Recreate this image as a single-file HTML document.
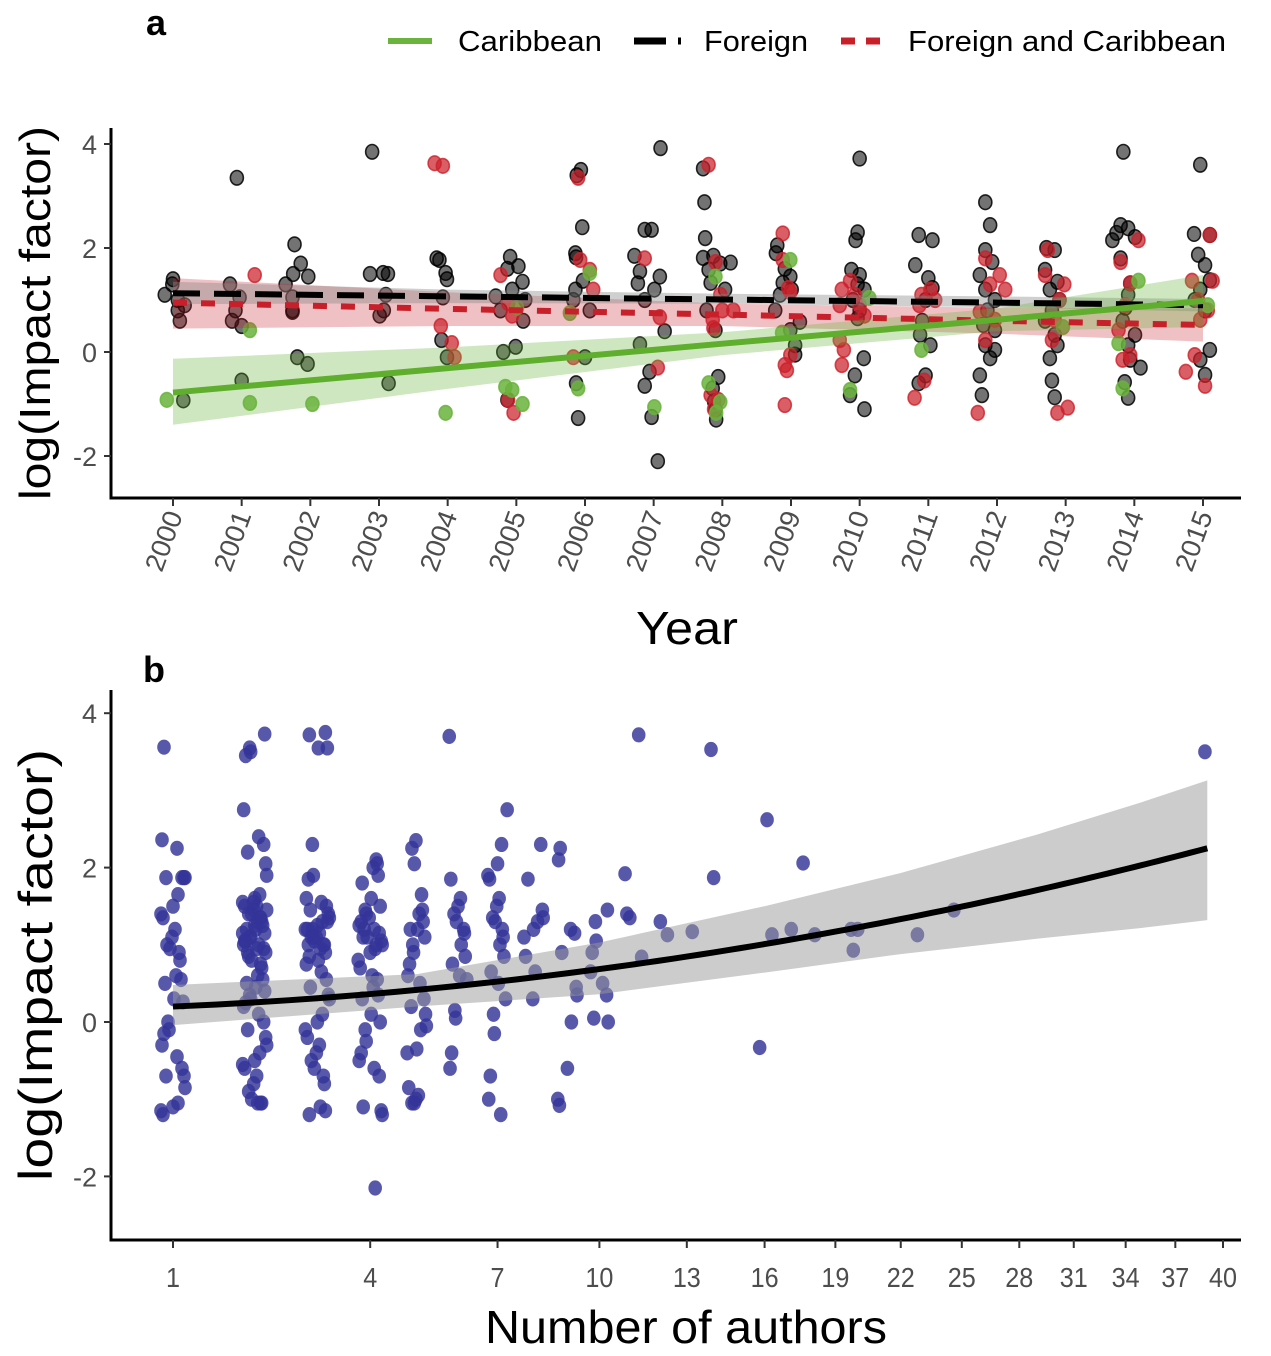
<!DOCTYPE html>
<html><head><meta charset="utf-8"><style>
html,body{margin:0;padding:0;background:#fff}
svg{display:block}
text{font-family:"Liberation Sans",Arial,sans-serif}
</style></head><body>
<svg id="chart" width="1271" height="1356" viewBox="0 0 1271 1356" xmlns="http://www.w3.org/2000/svg">
<g id="panelA"></g>
<g id="panelB"></g>
</svg>
<script>
// ---------- Panel a data ----------
const yearTicks = [2000,2001,2002,2003,2004,2005,2006,2007,2008,2009,2010,2011,2012,2013,2014,2015];
const yTicksA = [-2,0,2,4];
// Foreign (black) points: jittered year, value
const foreignX = [1999.88,1999.99,2000,2000.07,2000.10,2000.17,2000.07,2000.15,
2000.93,2000.83,2000.97,2000.91,2000.86,2001,2001,
2001.77,2001.86,2001.75,2001.97,2001.64,2001.74,2001.74,2001.74,2001.81,2001.96,
2002.9,2003.06,2003.13,2002.87,2003.1,2003.07,2003.01,2003.14,
2003.84,2003.88,2003.97,2003.99,2003.93,2003.91,2003.99,
2004.91,2005.03,2004.87,2005.09,2004.94,2004.7,2005.13,2004.77,2005.1,2004.99,2004.81,2004.87,
2005.94,2005.88,2005.96,2005.86,2005.87,2005.97,2005.86,2005.83,2006.07,2006,2005.9,2005.87,
2007.1,2006.87,2006.97,2006.72,2006.8,2006.77,2007.01,2007.09,2006.87,2007.16,2006.8,2006.94,2006.87,2006.97,2007.06,
2007.72,2007.74,2007.75,2007.72,2007.87,2007.97,2007.8,2008.12,2007.83,2008.04,2007.77,2007.9,2007.94,2007.86,2007.88,2007.9,2007.91,
2008.8,2008.78,2008.91,2008.88,2008.99,2009.01,2008.84,2008.77,2009.13,2008.99,2009.06,2009.06,
2010,2009.94,2009.97,2009.88,2010,2009.97,2010.07,2009.9,2010,2009.97,2010.06,2009.93,2009.86,2010.07,
2010.86,2011.06,2010.81,2011,2011.06,2010.96,2010.91,2010.88,2011.03,2010.86,2010.96,
2011.83,2011.9,2011.83,2011.93,2011.75,2011.83,2011.97,2011.86,2011.8,2011.97,2011.83,2011.9,2011.75,2011.78,2011.97,
2012.72,2012.84,2012.7,2012.88,2012.77,2012.91,2012.8,2012.7,2012.84,2012.88,2012.77,2012.8,2012.84,
2013.84,2013.8,2013.91,2013.74,2013.68,2014.01,2013.8,2013.94,2013.91,2013.87,2013.83,2014.01,2013.91,2013.94,2013.86,2013.91,2014.09,
2014.96,2014.87,2015.1,2014.93,2015.03,2015.1,2014.96,2014.88,2015.03,2015.1,2014.96,2015.03];
const foreignY = [1.1,1.3,1.4,0.8,0.6,0.9,1.0,-0.93,
3.35,1.3,1.05,0.8,0.6,0.5,-0.55,
2.07,1.7,1.5,1.45,1.3,1.05,0.8,0.77,-0.1,-0.23,
3.85,1.52,1.5,1.5,1.1,0.8,0.7,-0.6,
1.8,1.77,1.52,1.4,1.05,0.23,-0.1,
1.83,1.65,1.6,1.35,1.2,1.07,1.0,0.8,0.6,0.1,0,-0.92,
3.5,3.4,2.4,1.9,1.82,1.37,1.2,1.0,0.8,-0.1,-1.27,-0.6,
3.92,2.35,2.35,1.85,1.55,1.32,1.2,1.45,1.0,0.4,0.15,-0.38,-0.65,-1.25,-2.1,
3.53,2.88,2.19,1.81,1.85,1.7,1.58,1.72,1.33,1.2,0.8,0.42,-0.48,-0.7,-0.95,-1.1,-1.3,
2.05,1.9,1.6,1.33,1.45,1.2,1.1,0.8,0.58,0.42,0.13,-0.05,
3.72,2.15,2.3,1.58,1.48,1.3,1.2,1.0,0.8,0.65,-0.12,-0.45,-0.83,-1.1,
2.25,2.15,1.67,1.42,1.23,1.0,0.6,0.33,0.13,-0.6,-0.45,
2.88,2.44,1.96,1.73,1.48,1.2,1.0,0.8,0.52,0.42,0.13,-0.12,-0.45,-0.83,0.04,
2.0,1.96,1.58,1.35,1.2,1.0,0.8,0.6,0.33,0.13,-0.12,-0.55,-0.87,
3.85,2.44,2.38,2.29,2.15,2.21,1.8,1.32,1.1,0.85,0.6,0.33,0.13,-0.15,-0.58,-0.88,-0.3,
3.6,2.27,2.25,1.87,1.67,1.38,1.2,1.0,0.8,0.04,-0.15,-0.44];
// Foreign and Caribbean (red)
const bothX = [2001.19,2003.81,2003.93,2003.9,2004.06,2004.1,
2004.77,2004.88,2004.94,2004.88,2004.96,
2005.9,2005.93,2006.07,2006.12,2005.83,
2006.87,2007.09,2007.06,
2007.8,2007.9,2007.97,2007.86,2008,2007.87,2007.88,2007.94,2007.83,2008.16,
2008.88,2008.88,2008.96,2008.99,2008.91,2008.94,2008.91,2008.99,
2009.71,2009.74,2009.86,2010,2009.71,2009.77,2009.74,2009.93,2010.07,
2010.87,2010.9,2011.03,2010.94,2010.8,2011.1,
2011.83,2011.9,2011.75,2011.97,2011.83,2011.72,2012.04,2012.12,
2012.74,2012.91,2012.84,2012.8,2012.88,2013.03,2012.7,2012.98,
2013.8,2013.87,2013.77,2013.94,2013.83,2014.06,2013.94,
2014.84,2014.93,2014.96,2014.88,2014.75,2015.03,2015.1,2015.07,2015.14];
const bothY = [1.48,3.63,3.58,0.5,0.17,-0.1,
1.48,0.94,0.7,-0.92,-1.17,
3.35,1.77,1.58,1.2,-0.1,
1.8,0.67,-0.3,
3.6,1.73,1.1,0.62,0.8,0.46,-1.1,-0.92,-0.83,0.8,
2.28,1.77,1.23,-0.06,-0.25,-0.35,-1.02,1.15,
0.9,1.2,1.37,0.9,0.23,0.04,-0.25,1.1,0.7,
0.9,1.1,1.2,-0.55,-0.88,1.0,
1.8,1.3,0.77,0.62,0.23,-1.17,1.48,1.2,
1.96,1.0,0.62,0.23,-1.17,-1.07,1.48,1.3,
1.73,0.9,0.42,-0.06,-0.15,2.15,1.32,
1.37,1.0,0.62,-0.06,-0.38,-0.65,2.25,0.8,1.37];
// Caribbean (green)
const caribX = [1999.91,2001.12,2001.12,2002.03,2003.97,2004.84,2004.94,2005.09,2005.01,2006.07,2005.78,2005.9,2007.01,2007.8,2007.9,2007.97,2007.91,2008.99,2008.87,2010.14,2009.86,2010.9,2012.96,2014.06,2013.83,2013.77,2015.07];
const caribY = [-0.92,0.42,-0.98,-1.0,-1.17,-0.67,-0.73,-1.0,0.85,1.52,0.75,-0.7,-1.06,-0.6,1.45,-0.96,-1.17,1.77,0.37,1.04,-0.73,0.04,0.48,1.37,-0.7,0.17,0.9];
// Fitted trends (at years in bandYears)
const bandYears = [2000,2004,2008,2012,2015];
const caribFit = [-0.78,-0.31,0.16,0.62,0.98];
const caribLo = [-1.4,-0.71,-0.06,0.4,0.48];
const caribHi = [-0.13,0.09,0.38,0.84,1.48];
const foreignFit = [1.13,1.07,1.01,0.95,0.9];
const foreignLo = [0.92,0.94,0.93,0.86,0.78];
const foreignHi = [1.35,1.2,1.12,1.07,1.02];
const bothFit = [0.95,0.83,0.72,0.6,0.52];
const bothLo = [0.45,0.5,0.5,0.35,0.2];
const bothHi = [1.42,1.15,0.93,0.85,0.84];

// ---------- Panel b data ----------
const authorTicks = [1,4,7,10,13,16,19,22,25,28,31,34,37,40];
const yTicksB = [-2,0,2,4];
const colAuthors = [1,2,3,4,5,6,7,8,9,10];
const colValues = [
 [3.56,2.36,2.25,1.87,1.87,1.87,1.87,1.65,1.5,1.4,1.35,1.2,1.1,1.0,0.95,0.9,0.8,0.6,0.55,0.5,0.3,0.26,0.0,-0.1,-0.15,-0.3,-0.45,-0.6,-0.7,-0.7,-0.85,-1.05,-1.1,-1.15,-1.2],
 [3.73,3.55,3.5,3.45,2.75,2.4,2.3,2.2,2.05,1.9,1.65,1.6,1.55,1.5,1.5,1.45,1.4,1.4,1.35,1.3,1.3,1.25,1.2,1.2,1.15,1.1,1.1,1.05,1.0,1.0,0.95,0.9,0.9,1.45,1.35,1.25,1.15,1.05,0.95,1.55,0.85,0.8,0.75,0.7,0.6,0.55,0.5,0.45,0.4,0.35,0.3,0.25,0.2,0.1,0.0,-0.1,-0.2,-0.3,-0.4,-0.5,-0.55,-0.6,-0.7,-0.8,-0.9,-1.0,-1.05,-1.05,-1.05],
 [3.75,3.72,3.55,3.55,2.3,1.9,1.85,1.6,1.55,1.5,1.45,1.4,1.35,1.3,1.25,1.2,1.2,1.15,1.1,1.1,1.05,1.0,1.0,0.95,0.9,0.85,0.8,1.3,1.2,1.1,1.0,0.75,0.65,0.55,0.45,0.35,0.3,0.1,0.0,-0.1,-0.2,-0.3,-0.4,-0.5,-0.6,-0.7,-0.8,-1.1,-1.15,-1.2],
 [2.1,2.05,2.0,1.9,1.8,1.6,1.5,1.45,1.4,1.3,1.25,1.2,1.15,1.1,1.05,1.0,0.95,0.9,0.8,0.7,0.6,1.35,1.2,1.1,1.0,0.55,0.45,0.35,0.3,0.1,0.0,-0.1,-0.25,-0.4,-0.5,-0.6,-0.7,-1.1,-1.15,-1.2,-2.15],
 [2.35,2.25,2.05,1.65,1.45,1.4,1.3,1.2,1.2,1.1,1.0,0.9,0.75,0.6,0.5,0.3,0.2,0.1,-0.05,-0.1,-0.35,-0.4,-0.85,-0.95,-1.0,-1.05,-1.05],
 [3.7,1.85,1.6,1.5,1.4,1.3,1.2,1.15,1.0,0.85,0.75,0.6,0.55,0.15,0.05,-0.4,-0.6],
 [2.75,2.3,2.05,1.9,1.85,1.6,1.5,1.35,1.3,1.2,1.1,1.0,0.85,0.65,0.5,0.3,0.1,-0.15,-0.7,-1.0,-1.2],
 [2.3,1.85,1.45,1.35,1.3,1.2,1.1,0.85,0.65,0.3],
 [2.25,2.1,1.2,1.15,0.9,0.45,0.35,0.0,-0.6,-1.0,-1.08],
 [1.45,1.3,1.05,0.9,0.65,0.5,0.35,0.05,0.0]
];
const sparseN = [10.84,10.9,11.0,11.3,11.4,12.05,12.3,13.2,13.9,14.0,16.1,16.3,15.8,17.1,17.6,18.1,19.7,19.8,20.0,22.8,24.6,38.85];
const sparseV = [1.92,1.4,1.35,3.72,0.84,1.3,1.13,1.17,3.53,1.87,2.62,1.13,-0.33,1.2,2.06,1.13,1.2,0.93,1.2,1.13,1.45,3.5];
const fitN = [1,39];
const fitV = [0.2,2.25];
const bandN = [1,5,10,16,22,29,35,39];
const bandLoB = [-0.04,0.2,0.36,0.64,0.88,1.08,1.22,1.32];
const bandHiB = [0.48,0.62,1.03,1.5,1.93,2.43,2.85,3.13];

// ---------- helpers ----------
const NS = "http://www.w3.org/2000/svg";
function mk(parent, tag, attrs, text){
  const e = document.createElementNS(NS, tag);
  for (const k in attrs) e.setAttribute(k, attrs[k]);
  if (text !== undefined) e.textContent = text;
  parent.appendChild(e);
  return e;
}
const A = document.getElementById('panelA');
const B = document.getElementById('panelB');

const xA = yr => 173 + (yr - 2000) * (1203 - 173) / 15;
const yA = v => 352 - v * 52;
const xB = n => 173 + (Math.sqrt(n) - 1) * 197.2;
const yB = v => 1022 - v * 77.2;

// ---------- Panel A ----------
let t;
t = mk(A,'text',{x:146,y:35,'font-size':36,'font-weight':'bold'},'a');



const lg = mk(A,'g',{});


let l;
l = mk(lg,'line',{x1:388,y1:41,x2:432,y2:41,stroke:'#6ab33d','stroke-width':6});
 
t = mk(lg,'text',{x:458,y:51,'font-size':29,textLength:144,lengthAdjust:'spacingAndGlyphs'},'Caribbean');
 
l = mk(lg,'line',{x1:634,y1:41,x2:666,y2:41,stroke:'#000','stroke-width':7});
 
l = mk(lg,'line',{x1:678,y1:41,x2:681,y2:41,stroke:'#000','stroke-width':7});
 
t = mk(lg,'text',{x:704,y:51,'font-size':29,textLength:104,lengthAdjust:'spacingAndGlyphs'},'Foreign');
 
l = mk(lg,'line',{x1:841,y1:41,x2:881,y2:41,stroke:'#c8202a','stroke-width':7,'stroke-dasharray':'14 11'});
 
t = mk(lg,'text',{x:908,y:51,'font-size':29,textLength:318,lengthAdjust:'spacingAndGlyphs'},'Foreign and Caribbean');
 

function pointsA(xs, ys, fill, stroke, name){
  const g = mk(A,'g',{});
  
  
  for (let i=0;i<xs.length;i++){
    const c = mk(g,'ellipse',{cx:xA(xs[i]),cy:yA(ys[i]),rx:6.5,ry:7.3,fill:fill,stroke:stroke,'stroke-width':1.6});
    
    
  }
}
pointsA(foreignX, foreignY, 'rgba(0,0,0,0.55)', 'rgba(0,0,0,0.85)', 'foreign-points');
pointsA(bothX, bothY, 'rgba(204,32,42,0.72)', 'rgba(204,32,42,0.8)', 'both-points');
pointsA(caribX, caribY, 'rgba(106,179,61,0.85)', 'rgba(106,179,61,0.85)', 'caribbean-points');

function band(parent, xs, lo, hi, xf, yf, fill, op, name){
  let d = '';
  for (let i=0;i<xs.length;i++) d += (i?'L':'M') + xf(xs[i]) + ' ' + yf(hi[i]);
  for (let i=xs.length-1;i>=0;i--) d += 'L' + xf(xs[i]) + ' ' + yf(lo[i]);
  const p = mk(parent,'path',{d:d+'Z',fill:fill,'fill-opacity':op,stroke:'none'});
  
  
}
function line(parent, xs, ys, xf, yf, color, w, dash, name){
  let d='';
  for (let i=0;i<xs.length;i++) d += (i?'L':'M') + xf(xs[i]) + ' ' + yf(ys[i]);
  const p = mk(parent,'path',{d:d,fill:'none',stroke:color,'stroke-width':w,'stroke-dasharray':dash});
  
  
}
band(A, bandYears, bothLo, bothHi, xA, yA, '#c8202a', 0.28, 'both-ci-band');
band(A, bandYears, foreignLo, foreignHi, xA, yA, '#888', 0.4, 'foreign-ci-band');
band(A, bandYears, caribLo, caribHi, xA, yA, '#6ab33d', 0.32, 'caribbean-ci-band');
line(A, bandYears, foreignFit, xA, yA, '#000', 6, '27 14', 'foreign-trend-line');
line(A, bandYears, bothFit, xA, yA, '#c8202a', 6, '14 14', 'both-trend-line');
line(A, bandYears, caribFit, xA, yA, '#5fae2e', 6, 'none', 'caribbean-trend-line');

l = mk(A,'line',{x1:111,y1:128,x2:111,y2:499.5,stroke:'#000','stroke-width':3});
 
l = mk(A,'line',{x1:109.5,y1:498,x2:1241,y2:498,stroke:'#000','stroke-width':3});
 
yTicksA.forEach(v=>{
  const tk = mk(A,'line',{x1:104,y1:yA(v),x2:111,y2:yA(v),stroke:'#333','stroke-width':2});
   
  const tl = mk(A,'text',{x:97,y:yA(v)+10,'font-size':27,'text-anchor':'end',fill:'#4d4d4d'}, String(v));
   
});
yearTicks.forEach(yr=>{
  const x = xA(yr);
  const tk = mk(A,'line',{x1:x,y1:498,x2:x,y2:506,stroke:'#333','stroke-width':2});
   
  const tl = mk(A,'text',{x:0,y:0,'font-size':27,'text-anchor':'end',fill:'#4d4d4d',
     transform:'translate('+(x+10)+',515) rotate(-70)',textLength:62,lengthAdjust:'spacingAndGlyphs'}, String(yr));
   
});
t = mk(A,'text',{x:687,y:644,'font-size':46,'text-anchor':'middle',textLength:102,lengthAdjust:'spacingAndGlyphs'},'Year');
 
t = mk(A,'text',{x:0,y:0,'font-size':44,'text-anchor':'middle',transform:'translate(50,313) rotate(-90)',textLength:374,lengthAdjust:'spacingAndGlyphs'},'log(Impact factor)');
 

// ---------- Panel B ----------
t = mk(B,'text',{x:143,y:682,'font-size':36,'font-weight':'bold'},'b');
 

const jit = [-9,5,-3,10,-7,2,8,-11,0,6,-5,11,-1,-8,4,-12,7,-4,12,-6,1,9,-10,3];
const gB = mk(B,'g',{});


colAuthors.forEach((n,ci)=>{
  const scale = n<=4 ? 1 : 0.8;
  colValues[ci].forEach((v,i)=>{
    const c = mk(gB,'ellipse',{cx:xB(n)+jit[(i*7+ci*3)%jit.length]*scale,cy:yB(v),rx:6.8,ry:7.6,fill:'rgba(51,51,153,0.82)'});
    
    
  });
});
sparseN.forEach((n,i)=>{
  const c = mk(gB,'ellipse',{cx:xB(n),cy:yB(sparseV[i]),rx:6.8,ry:7.6,fill:'rgba(51,51,153,0.82)'});
  
  
});
band(B, bandN, bandLoB, bandHiB, xB, yB, '#999', 0.5, 'authors-ci-band');
const fitSamples = [];
for (let n=fitN[0]; n<=fitN[1]+1e-9; n+=0.5) fitSamples.push(n);
const fitSampleV = fitSamples.map(n => fitV[0] + (fitV[1]-fitV[0])*(n-fitN[0])/(fitN[1]-fitN[0]));
line(B, fitSamples, fitSampleV, xB, yB, '#000', 6, 'none', 'authors-fit-line');

l = mk(B,'line',{x1:111,y1:690,x2:111,y2:1241.5,stroke:'#000','stroke-width':3});
 
l = mk(B,'line',{x1:109.5,y1:1240,x2:1241,y2:1240,stroke:'#000','stroke-width':3});
 
yTicksB.forEach(v=>{
  const tk = mk(B,'line',{x1:104,y1:yB(v),x2:111,y2:yB(v),stroke:'#333','stroke-width':2});
   
  const tl = mk(B,'text',{x:97,y:yB(v)+10,'font-size':27,'text-anchor':'end',fill:'#4d4d4d'}, String(v));
   
});
authorTicks.forEach(n=>{
  const x = xB(n);
  const tk = mk(B,'line',{x1:x,y1:1240,x2:x,y2:1248,stroke:'#333','stroke-width':2});
   
  const s = String(n);
  const tl = mk(B,'text',{x:x,y:1287,'font-size':28,'text-anchor':'middle',fill:'#4d4d4d',textLength:s.length*14,lengthAdjust:'spacingAndGlyphs'}, s);
   
});
t = mk(B,'text',{x:686,y:1343,'font-size':46,'text-anchor':'middle',textLength:402,lengthAdjust:'spacingAndGlyphs'},'Number of authors');
 
t = mk(B,'text',{x:0,y:0,'font-size':47,'text-anchor':'middle',transform:'translate(52,965) rotate(-90)',textLength:432,lengthAdjust:'spacingAndGlyphs'},'log(Impact factor)');
 
</script>
</body></html>
